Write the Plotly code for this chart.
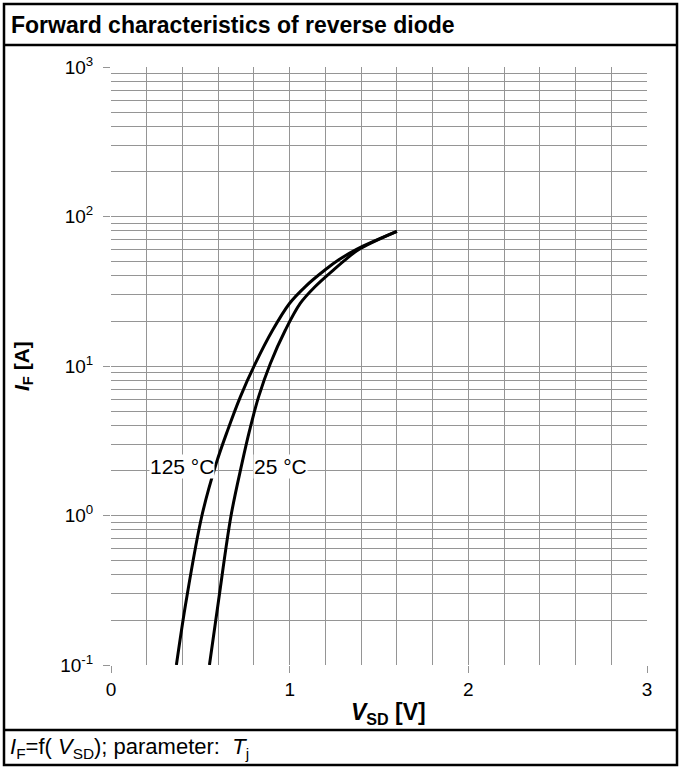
import plotly.graph_objects as go

# Data
v_125 = [0.366, 0.421, 0.509, 0.589, 0.653, 0.724, 0.808, 0.905, 1.000, 1.088, 1.199, 1.275, 1.377, 1.60]
i_125 = [0.1, 0.27, 1.0, 2.23, 3.72, 6.22, 10.4, 17.4, 26.3, 34.0, 44.0, 51.3, 60.5, 79.4]
v_25 = [0.551, 0.602, 0.672, 0.733, 0.776, 0.826, 0.892, 0.976, 1.060, 1.143, 1.246, 1.311, 1.385, 1.60]
i_25 = [0.1, 0.27, 1.0, 2.23, 3.72, 6.22, 10.4, 17.4, 26.3, 34.0, 44.0, 51.3, 59.9, 79.4]

x_tickvals = [0, 1, 2, 3]
y_tickvals = [0.1, 1, 10, 100, 1000]
y_ticktext = ["10<sup>-1</sup>", "10<sup>0</sup>", "10<sup>1</sup>", "10<sup>2</sup>", "10<sup>3</sup>"]

FONT = "Liberation Sans, Arial, sans-serif"
GRID = "#959595"

fig = go.Figure()
for v, i, name in [(v_125, i_125, "125 °C"), (v_25, i_25, "25 °C")]:
    fig.add_trace(go.Scatter(x=v, y=i, mode="lines", name=name,
                             line=dict(color="black", width=3, shape="spline", smoothing=1.0),
                             showlegend=False, hoverinfo="skip"))

fig.update_layout(
    width=680, height=767,
    margin=dict(l=111, r=33, t=67, b=102),
    paper_bgcolor="white", plot_bgcolor="white",
    font=dict(family=FONT, color="black", size=19),
    xaxis=dict(range=[0, 3], tickmode="array", tickvals=x_tickvals,
               showgrid=True, gridcolor=GRID, gridwidth=1,
               ticks="outside", ticklen=7, tickcolor=GRID,
               minor=dict(dtick=0.2, tick0=0, showgrid=True, gridcolor=GRID, gridwidth=1),
               zeroline=False, showline=False,
               tickfont=dict(size=19)),
    yaxis=dict(type="log", range=[-1, 3], tickmode="array", tickvals=y_tickvals,
               ticktext=y_ticktext, showgrid=True, gridcolor=GRID, gridwidth=1,
               ticks="outside", ticklen=7, tickcolor=GRID, ticklabelstandoff=6,
               minor=dict(dtick="D1", showgrid=True, gridcolor=GRID, gridwidth=1),
               zeroline=False, showline=False,
               tickfont=dict(size=19)),
)

# Frame lines (paper coordinates)
def px_x(p):
    return (p - 111) / 536.0

def px_y(p):
    return (665 - p) / 598.0

fig.add_shape(type="rect", xref="paper", yref="paper",
              x0=px_x(4), x1=px_x(677), y0=px_y(765), y1=px_y(4),
              line=dict(color="black", width=2.5), layer="above")
for py in (45, 730):
    fig.add_shape(type="line", xref="paper", yref="paper",
                  x0=px_x(4), x1=px_x(677), y0=px_y(py), y1=px_y(py),
                  line=dict(color="black", width=2.5))

# Title
fig.add_annotation(text="<b>Forward characteristics of reverse diode</b>",
                   xref="paper", yref="paper", x=px_x(9), y=px_y(25),
                   xanchor="left", yanchor="middle", showarrow=False,
                   font=dict(size=23, family=FONT))
# Axis titles
fig.add_annotation(text="<b><i>I</i><sub>F</sub> [A]</b>",
                   xref="paper", yref="paper", x=px_x(23), y=px_y(366),
                   xanchor="center", yanchor="middle", showarrow=False,
                   textangle=-90, font=dict(size=21, family=FONT))
fig.add_annotation(text="<b><i>V</i><sub>SD</sub> [V]</b>",
                   xref="paper", yref="paper", x=px_x(388), y=px_y(713),
                   xanchor="center", yanchor="middle", showarrow=False,
                   font=dict(size=23, family=FONT))
# Footer
fig.add_annotation(text="<i>I</i><sub>F</sub>=f( <i>V</i><sub>SD</sub>); parameter:  <i>T</i><sub>j</sub>",
                   xref="paper", yref="paper", x=px_x(8), y=px_y(748),
                   xanchor="left", yanchor="middle", showarrow=False,
                   font=dict(size=22, family=FONT))
# Curve labels
fig.add_annotation(text="125 °C", x=0.40, y=0.325, xref="x", yref="y",
                   showarrow=False, bgcolor="white", borderpad=0,
                   font=dict(size=21, family=FONT))
fig.add_annotation(text="25 °C", x=0.946, y=0.325, xref="x", yref="y",
                   showarrow=False, bgcolor="white", borderpad=0,
                   font=dict(size=21, family=FONT))

fig.write_html("out.html", config={"displayModeBar": False},
               post_script="document.body.style.margin='0';")
